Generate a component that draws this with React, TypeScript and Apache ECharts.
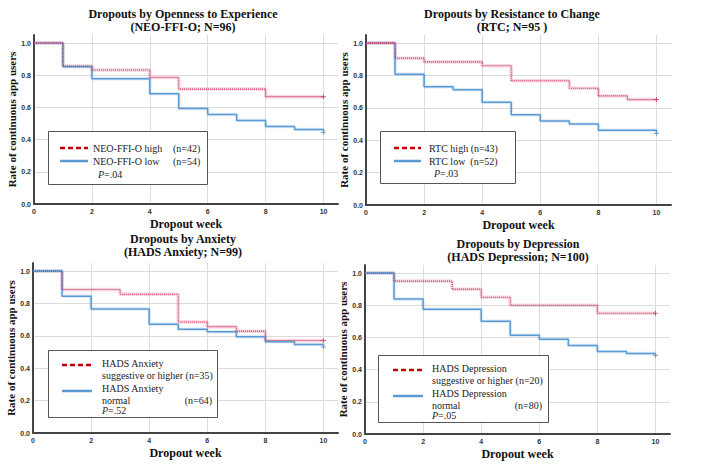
import React, { useEffect, useRef } from "react";
import * as echarts from "echarts";

// ---------- data ----------
const panelTitles = [
  "Dropouts by Openness to Experience\n(NEO-FFI-O; N=96)",
  "Dropouts by Resistance to Change\n(RTC; N=95 )",
  "Dropouts by Anxiety\n(HADS Anxiety; N=99)",
  "Dropouts by Depression\n(HADS Depression; N=100)",
];
const xTicks = [0, 2, 4, 6, 8, 10];
const yTicks = [0, 0.2, 0.4, 0.6, 0.8, 1.0];

// Panel 1: NEO-FFI-O
const p1HighWeeks = [0, 1, 2, 4, 5, 8, 10];
const p1HighSurv = [1, 0.857, 0.833, 0.786, 0.714, 0.667, 0.667];
const p1LowWeeks = [0, 1, 2, 4, 5, 6, 7, 8, 9, 10];
const p1LowSurv = [1, 0.852, 0.778, 0.685, 0.593, 0.556, 0.519, 0.481, 0.463, 0.444];
// Panel 2: RTC
const p2HighWeeks = [0, 1, 2, 4, 5, 7, 8, 9, 10];
const p2HighSurv = [1, 0.907, 0.884, 0.86, 0.767, 0.721, 0.674, 0.651, 0.651];
const p2LowWeeks = [0, 1, 2, 3, 4, 5, 6, 7, 8, 10];
const p2LowSurv = [1, 0.808, 0.731, 0.712, 0.635, 0.558, 0.519, 0.5, 0.462, 0.442];
// Panel 3: HADS Anxiety
const p3HighWeeks = [0, 1, 3, 5, 6, 7, 8, 10];
const p3HighSurv = [1, 0.886, 0.857, 0.686, 0.657, 0.629, 0.571, 0.571];
const p3LowWeeks = [0, 1, 2, 4, 5, 6, 7, 8, 9, 10];
const p3LowSurv = [1, 0.844, 0.766, 0.672, 0.641, 0.625, 0.594, 0.563, 0.547, 0.531];
// Panel 4: HADS Depression
const p4HighWeeks = [0, 1, 3, 4, 5, 8, 10];
const p4HighSurv = [1, 0.95, 0.9, 0.85, 0.8, 0.75, 0.75];
const p4LowWeeks = [0, 1, 2, 4, 5, 6, 7, 8, 9, 10];
const p4LowSurv = [1, 0.838, 0.775, 0.7, 0.613, 0.588, 0.55, 0.513, 0.5, 0.488];

const highSets = [
  [p1HighWeeks, p1HighSurv],
  [p2HighWeeks, p2HighSurv],
  [p3HighWeeks, p3HighSurv],
  [p4HighWeeks, p4HighSurv],
];
const lowSets = [
  [p1LowWeeks, p1LowSurv],
  [p2LowWeeks, p2LowSurv],
  [p3LowWeeks, p3LowSurv],
  [p4LowWeeks, p4LowSurv],
];

// legend texts
const legendHigh = ["NEO-FFI-O high", "RTC high (n=43)", "HADS Anxiety", "HADS Depression"];
const legendHighN = ["(n=42)", "", "suggestive or higher (n=35)", "suggestive or higher (n=20)"];
const legendLow = ["NEO-FFI-O low", "RTC low  (n=52)", "HADS Anxiety", "HADS Depression"];
const legendLowN = ["(n=54)", "", "(n=64)", "(n=80)"];
const pValues = [".04", ".03", ".52", ".05"];

// ---------- layout / styles ----------
const grids = [
  { left: 34, top: 35, width: 304, height: 169 },
  { left: 366, top: 35, width: 305, height: 170 },
  { left: 33, top: 263, width: 305, height: 170 },
  { left: 365, top: 265, width: 305, height: 169 },
];
const titleCenters = [
  [183, 7],
  [512, 7],
  [183, 232],
  [518, 237],
];
const RED = "#d3305a";
const BLUE = "#5b9bd5";
const SERIF = "Liberation Serif";
const SANS = "Liberation Sans";
const PLUS = "path://M2,0H3V2H5V3H3V5H2V3H0V2H2Z";

function legendGraphic(i: number): any[] {
  const els: any[] = [];
  const txt = (x: number, y: number, text: string, align = "left") => ({
    type: "text",
    x,
    y,
    z: 101,
    style: {
      text,
      fontFamily: SERIF,
      fontSize: 10,
      lineHeight: 10,
      fill: "#222",
      align,
      verticalAlign: "middle",
    },
  });
  const pTxt = (x: number, y: number) => ({
    type: "text",
    x,
    y,
    z: 101,
    style: {
      text: `{i|P}{n|=${pValues[i]}}`,
      fontFamily: SERIF,
      fontSize: 10,
      lineHeight: 10,
      fill: "#222",
      verticalAlign: "middle",
      rich: {
        i: { fontStyle: "italic", fontFamily: SERIF, fontSize: 10, lineHeight: 10, fill: "#222" },
        n: { fontFamily: SERIF, fontSize: 10, lineHeight: 10, fill: "#222" },
      },
    },
  });
  const box = (x: number, y: number, w: number, h: number) => ({
    type: "rect",
    z: 100,
    shape: { x, y, width: w, height: h },
    style: { fill: "#fff", stroke: "#555", lineWidth: 1 },
  });
  const seg = (x1: number, x2: number, y: number, color: string, dashed: boolean) => ({
    type: "line",
    z: 101,
    shape: { x1, y1: y, x2, y2: y },
    style: { stroke: color, lineWidth: 2.5, lineDash: dashed ? [5, 3] : null },
  });
  if (i === 0) {
    els.push(box(48.5, 131.5, 159, 53));
    els.push(seg(60, 88, 148, "#c00000", true));
    els.push(seg(60, 88, 161, BLUE, false));
    els.push(txt(93, 148, legendHigh[0]));
    els.push(txt(173, 148, legendHighN[0]));
    els.push(txt(93, 161, legendLow[0]));
    els.push(txt(173, 161, legendLowN[0]));
    els.push(pTxt(98, 174));
  } else if (i === 1) {
    els.push(box(380.5, 131.5, 135, 52));
    els.push(seg(394, 421, 148, "#c00000", true));
    els.push(seg(394, 421, 161, BLUE, false));
    els.push(txt(429, 148, legendHigh[1]));
    els.push(txt(429, 161, legendLow[1]));
    els.push(pTxt(434, 173));
  } else {
    const bx = i === 2 ? 48.5 : 378.5;
    const by = i === 2 ? 350.5 : 355.5;
    const lx1 = i === 2 ? 62 : 393;
    const tx = i === 2 ? 102 : 432;
    const rx = i === 2 ? 212 : 542;
    const dy = by - 350.5;
    els.push(box(bx, by, i === 2 ? 169 : 170, 67));
    els.push(seg(lx1, lx1 + 30, 365 + dy, "#c00000", true));
    els.push(seg(lx1, lx1 + 30, 391 + dy, BLUE, false));
    els.push(txt(tx, 363.5 + dy, legendHigh[i]));
    els.push(txt(tx, 375 + dy, legendHighN[i]));
    els.push(txt(tx, 388 + dy, legendLow[i]));
    els.push(txt(tx, 400.5 + dy, "normal"));
    els.push(txt(rx, 400.5 + dy, legendLowN[i], "right"));
    els.push(pTxt(tx, 410.5 + dy));
  }
  return els;
}

export default function App() {
  const ref = useRef<HTMLDivElement>(null);
  useEffect(() => {
    if (!ref.current) return;
    const chart = echarts.init(ref.current, null, { renderer: "svg" });
    const xAxes = grids.map((_, i) => ({
      type: "value",
      gridIndex: i,
      min: 0,
      max: 10.5,
      interval: 2,
      name: "Dropout week",
      nameLocation: "middle",
      nameGap: 14,
      nameTextStyle: { fontFamily: SERIF, fontWeight: "bold", fontSize: 12, color: "#111" },
      axisLine: { show: true, lineStyle: { color: "#444", width: 2 } },
      axisTick: { show: false },
      axisLabel: {
        fontFamily: SANS,
        fontWeight: "bold",
        fontSize: 7,
        color: "#333",
        margin: 4,
        formatter: (v: number) => (xTicks.indexOf(v) >= 0 ? String(v) : ""),
      },
      splitLine: { show: true, showMaxLine: false, lineStyle: { color: "#dcdcdc", width: 1 } },
    }));
    const yAxes = grids.map((_, i) => ({
      type: "value",
      gridIndex: i,
      min: 0,
      max: 1.05,
      interval: 0.2,
      name: "Rate of continuous app users",
      nameLocation: "middle",
      nameGap: 16,
      nameRotate: 90,
      nameTextStyle: { fontFamily: SERIF, fontWeight: "bold", fontSize: 11, color: "#111" },
      axisLine: { show: true, lineStyle: { color: "#444", width: 2 } },
      axisTick: { show: false },
      axisLabel: {
        fontFamily: SANS,
        fontWeight: "bold",
        fontSize: 7,
        color: "#333",
        margin: 3,
        formatter: (v: number) =>
          yTicks.some((t) => Math.abs(t - v) < 1e-6) ? v.toFixed(1) : "",
      },
      splitLine: { show: true, showMaxLine: false, lineStyle: { color: "#dcdcdc", width: 1 } },
    }));
    const series: any[] = [];
    const addKM = (i: number, set: number[][], color: string, dotted: boolean) => {
      const [wk, sv] = set;
      const data = wk.map((w, k) => [w, sv[k]]);
      series.push({
        type: "line",
        xAxisIndex: i,
        yAxisIndex: i,
        step: "end",
        data,
        symbol: "none",
        silent: true,
        lineStyle: { color, width: 3.5, opacity: 0.2 },
        z: 2,
      });
      series.push({
        type: "line",
        xAxisIndex: i,
        yAxisIndex: i,
        step: "end",
        data,
        symbol: "none",
        silent: true,
        lineStyle: dotted
          ? { color, width: 1.1, type: [1, 1] }
          : { color, width: 1.5, type: "solid" },
        z: 3,
      });
      series.push({
        type: "scatter",
        xAxisIndex: i,
        yAxisIndex: i,
        data: [data[data.length - 1]],
        symbol: PLUS,
        symbolSize: 5,
        itemStyle: { color },
        silent: true,
        z: 4,
      });
    };
    for (let i = 0; i < 4; i++) {
      addKM(i, lowSets[i], BLUE, false);
      addKM(i, highSets[i], RED, true);
    }
    const graphic: any[] = [];
    panelTitles.forEach((t, i) => {
      graphic.push({
        type: "text",
        x: titleCenters[i][0],
        y: titleCenters[i][1],
        style: {
          text: t,
          fontFamily: SERIF,
          fontWeight: "bold",
          fontSize: 12,
          fill: "#111",
          align: "center",
          verticalAlign: "top",
          lineHeight: 13,
        },
      });
    });
    for (let i = 0; i < 4; i++) graphic.push(...legendGraphic(i));
    chart.setOption({
      animation: false,
      backgroundColor: "#fff",
      grid: grids.map((g) => ({ ...g })),
      xAxis: xAxes,
      yAxis: yAxes,
      series,
      graphic,
    });
    return () => chart.dispose();
  }, []);
  return (
    <div
      ref={ref}
      style={{ position: "absolute", left: 0, top: 0, width: 705, height: 464, background: "#fff" }}
    />
  );
}
